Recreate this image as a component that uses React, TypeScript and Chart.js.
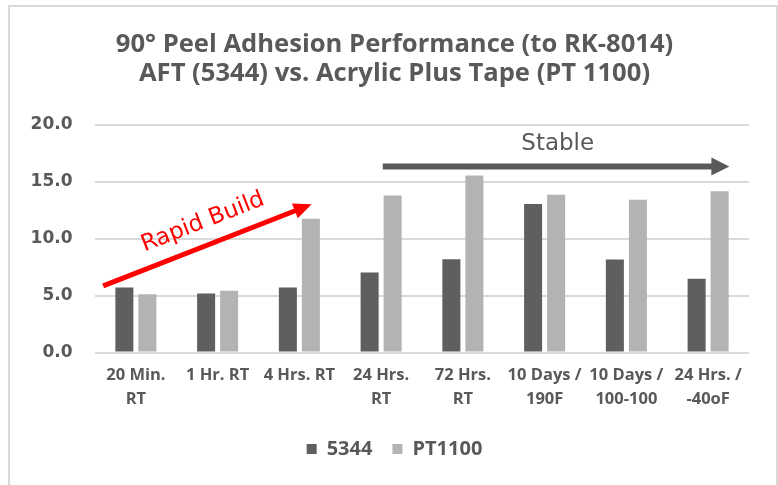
import React, { useEffect, useRef } from "react";
import { Chart, registerables } from "chart.js";

Chart.register(...registerables);

const titleLines = [
  "90° Peel Adhesion Performance (to RK-8014)",
  "AFT (5344) vs. Acrylic Plus Tape (PT 1100)",
];
const categories = [
  ["20 Min.", "RT"],
  ["1 Hr. RT"],
  ["4 Hrs. RT"],
  ["24 Hrs.", "RT"],
  ["72 Hrs.", "RT"],
  ["10 Days /", "190F"],
  ["10 Days /", "100-100"],
  ["24 Hrs. /", "-40oF"],
];
const seriesNames = ["5344", "PT1100"];
const values5344 = [5.72, 5.19, 5.72, 7.04, 8.2, 13.05, 8.18, 6.48];
const valuesPT1100 = [5.13, 5.42, 11.77, 13.8, 15.57, 13.88, 13.44, 14.17];
const yMin = 0;
const yMax = 20;
const yStep = 5;

// annotations, in data space: [category index, value]
const rapidArrowFrom = [-0.4, 5.86];
const rapidArrowTo = [2.15, 13.03];
const rapidLabel = "Rapid Build";
const rapidLabelAt = [0.82, 11.45];
const stableArrowFrom = [3.02, 16.36];
const stableArrowTo = [7.26, 16.36];
const stableLabel = "Stable";
const stableLabelAt = [5.16, 18.35];

const GRAY_TEXT = "#595959";
const DARK = "#5f5f5f";
const LIGHT = "#b3b3b3";
const CENTER_SHIFT = 40;

function drawArrow(
  ctx: CanvasRenderingContext2D,
  x1: number,
  y1: number,
  x2: number,
  y2: number,
  color: string,
  width: number,
  headLen: number,
  headW: number
) {
  const ang = Math.atan2(y2 - y1, x2 - x1);
  const cos = Math.cos(ang);
  const sin = Math.sin(ang);
  const bx = x2 - cos * headLen;
  const by = y2 - sin * headLen;
  ctx.save();
  ctx.strokeStyle = color;
  ctx.fillStyle = color;
  ctx.lineWidth = width;
  ctx.lineCap = "butt";
  ctx.beginPath();
  ctx.moveTo(x1, y1);
  ctx.lineTo(bx + cos * 1, by + sin * 1);
  ctx.stroke();
  ctx.beginPath();
  ctx.moveTo(x2, y2);
  ctx.lineTo(bx - sin * headW / 2, by + cos * headW / 2);
  ctx.lineTo(bx + sin * headW / 2, by - cos * headW / 2);
  ctx.closePath();
  ctx.fill();
  ctx.restore();
}

const framePlugin = {
  id: "frame",
  afterLayout(chart: any) {
    if (chart.legend) chart.legend.left += CENTER_SHIFT;
    if (chart.titleBlock) chart.titleBlock.left += CENTER_SHIFT;
  },
  beforeDraw(chart: any) {
    const ctx = chart.ctx;
    ctx.save();
    ctx.fillStyle = "#ffffff";
    ctx.fillRect(0, 0, chart.width, chart.height);
    ctx.strokeStyle = "#d9d9d9";
    ctx.lineWidth = 2;
    ctx.beginPath();
    ctx.moveTo(9, chart.height);
    ctx.lineTo(9, 6);
    ctx.lineTo(chart.width - 1, 6);
    ctx.lineTo(chart.width - 1, chart.height);
    ctx.stroke();
    ctx.restore();
  },
};

const annotationPlugin = {
  id: "annotations",
  afterDraw(chart: any) {
    const ctx = chart.ctx;
    const xs = chart.scales.x;
    const ys = chart.scales.y;
    const px = (p: number[]) => [xs.getPixelForValue(p[0]), ys.getPixelForValue(p[1])];
    const [rx1, ry1] = px(rapidArrowFrom);
    const [rx2, ry2] = px(rapidArrowTo);
    drawArrow(ctx, rx1, ry1, rx2, ry2, "#ff0000", 5, 18, 16);
    const [sx1, sy1] = px(stableArrowFrom);
    const [sx2, sy2] = px(stableArrowTo);
    drawArrow(ctx, sx1, sy1, sx2, sy2, "#595959", 6, 18, 18);

    const ang = Math.atan2(ry2 - ry1, rx2 - rx1);
    const [tx, ty] = px(rapidLabelAt);
    ctx.save();
    ctx.translate(tx, ty);
    ctx.rotate(ang);
    ctx.fillStyle = "#ff0000";
    ctx.font = "23px 'DejaVu Sans'";
    ctx.textAlign = "center";
    ctx.textBaseline = "middle";
    ctx.fillText(rapidLabel, 0, 0);
    ctx.restore();

    const [lx, ly] = px(stableLabelAt);
    ctx.save();
    ctx.fillStyle = GRAY_TEXT;
    ctx.font = "23px 'DejaVu Sans'";
    ctx.textAlign = "center";
    ctx.textBaseline = "middle";
    ctx.fillText(stableLabel, lx, ly);
    ctx.restore();
  },
};

export default function App() {
  const canvasRef = useRef<HTMLCanvasElement | null>(null);

  useEffect(() => {
    if (!canvasRef.current) return;
    const chart = new Chart(canvasRef.current, {
      type: "bar",
      data: {
        labels: categories,
        datasets: [
          {
            label: seriesNames[0],
            data: values5344,
            backgroundColor: DARK,
            categoryPercentage: 0.563,
            barPercentage: 0.783,
          },
          {
            label: seriesNames[1],
            data: valuesPT1100,
            backgroundColor: LIGHT,
            categoryPercentage: 0.563,
            barPercentage: 0.783,
          },
        ],
      },
      options: {
        responsive: false,
        animation: false,
        devicePixelRatio: 1,
        layout: { padding: { left: 0, right: 29, top: 0, bottom: 16 } },
        plugins: {
          tooltip: { enabled: false },
          title: {
            display: true,
            text: titleLines,
            color: GRAY_TEXT,
            font: { family: "'Open Sans'", weight: "bold", size: 25.6, lineHeight: 1.1 },
            padding: { top: 31, bottom: 37.7 },
          },
          legend: {
            display: true,
            position: "bottom",
            labels: {
              color: GRAY_TEXT,
              font: { family: "'Open Sans'", weight: "bold", size: 20 },
              boxWidth: 10,
              boxHeight: 10,
              padding: 20,
            },
          },
        },
        scales: {
          x: {
            grid: { display: false, drawTicks: false },
            border: { display: false },
            ticks: {
              color: GRAY_TEXT,
              font: { family: "'Open Sans'", weight: "bold", size: 16.5, lineHeight: 1.45 },
              padding: 11,
              maxRotation: 0,
              autoSkip: false,
            },
            afterFit: (s: any) => {
              s.height = 66.5;
            },
          },
          y: {
            min: yMin,
            max: yMax,
            grid: { color: "#d9d9d9", lineWidth: 2, drawTicks: false },
            border: { display: false },
            ticks: {
              stepSize: yStep,
              color: GRAY_TEXT,
              font: { family: "'DejaVu Sans'", weight: "bold", size: 17 },
              padding: 22.5,
              callback: (v: any) => Number(v).toFixed(1),
            },
            afterFit: (s: any) => {
              s.width = 95;
            },
          },
        },
      },
      plugins: [framePlugin, annotationPlugin],
    });
    return () => chart.destroy();
  }, []);

  return (
    <div style={{ position: "absolute", left: 0, top: 0, width: 778, height: 485 }}>
      <canvas ref={canvasRef} width={778} height={485} style={{ display: "block" }} />
    </div>
  );
}
